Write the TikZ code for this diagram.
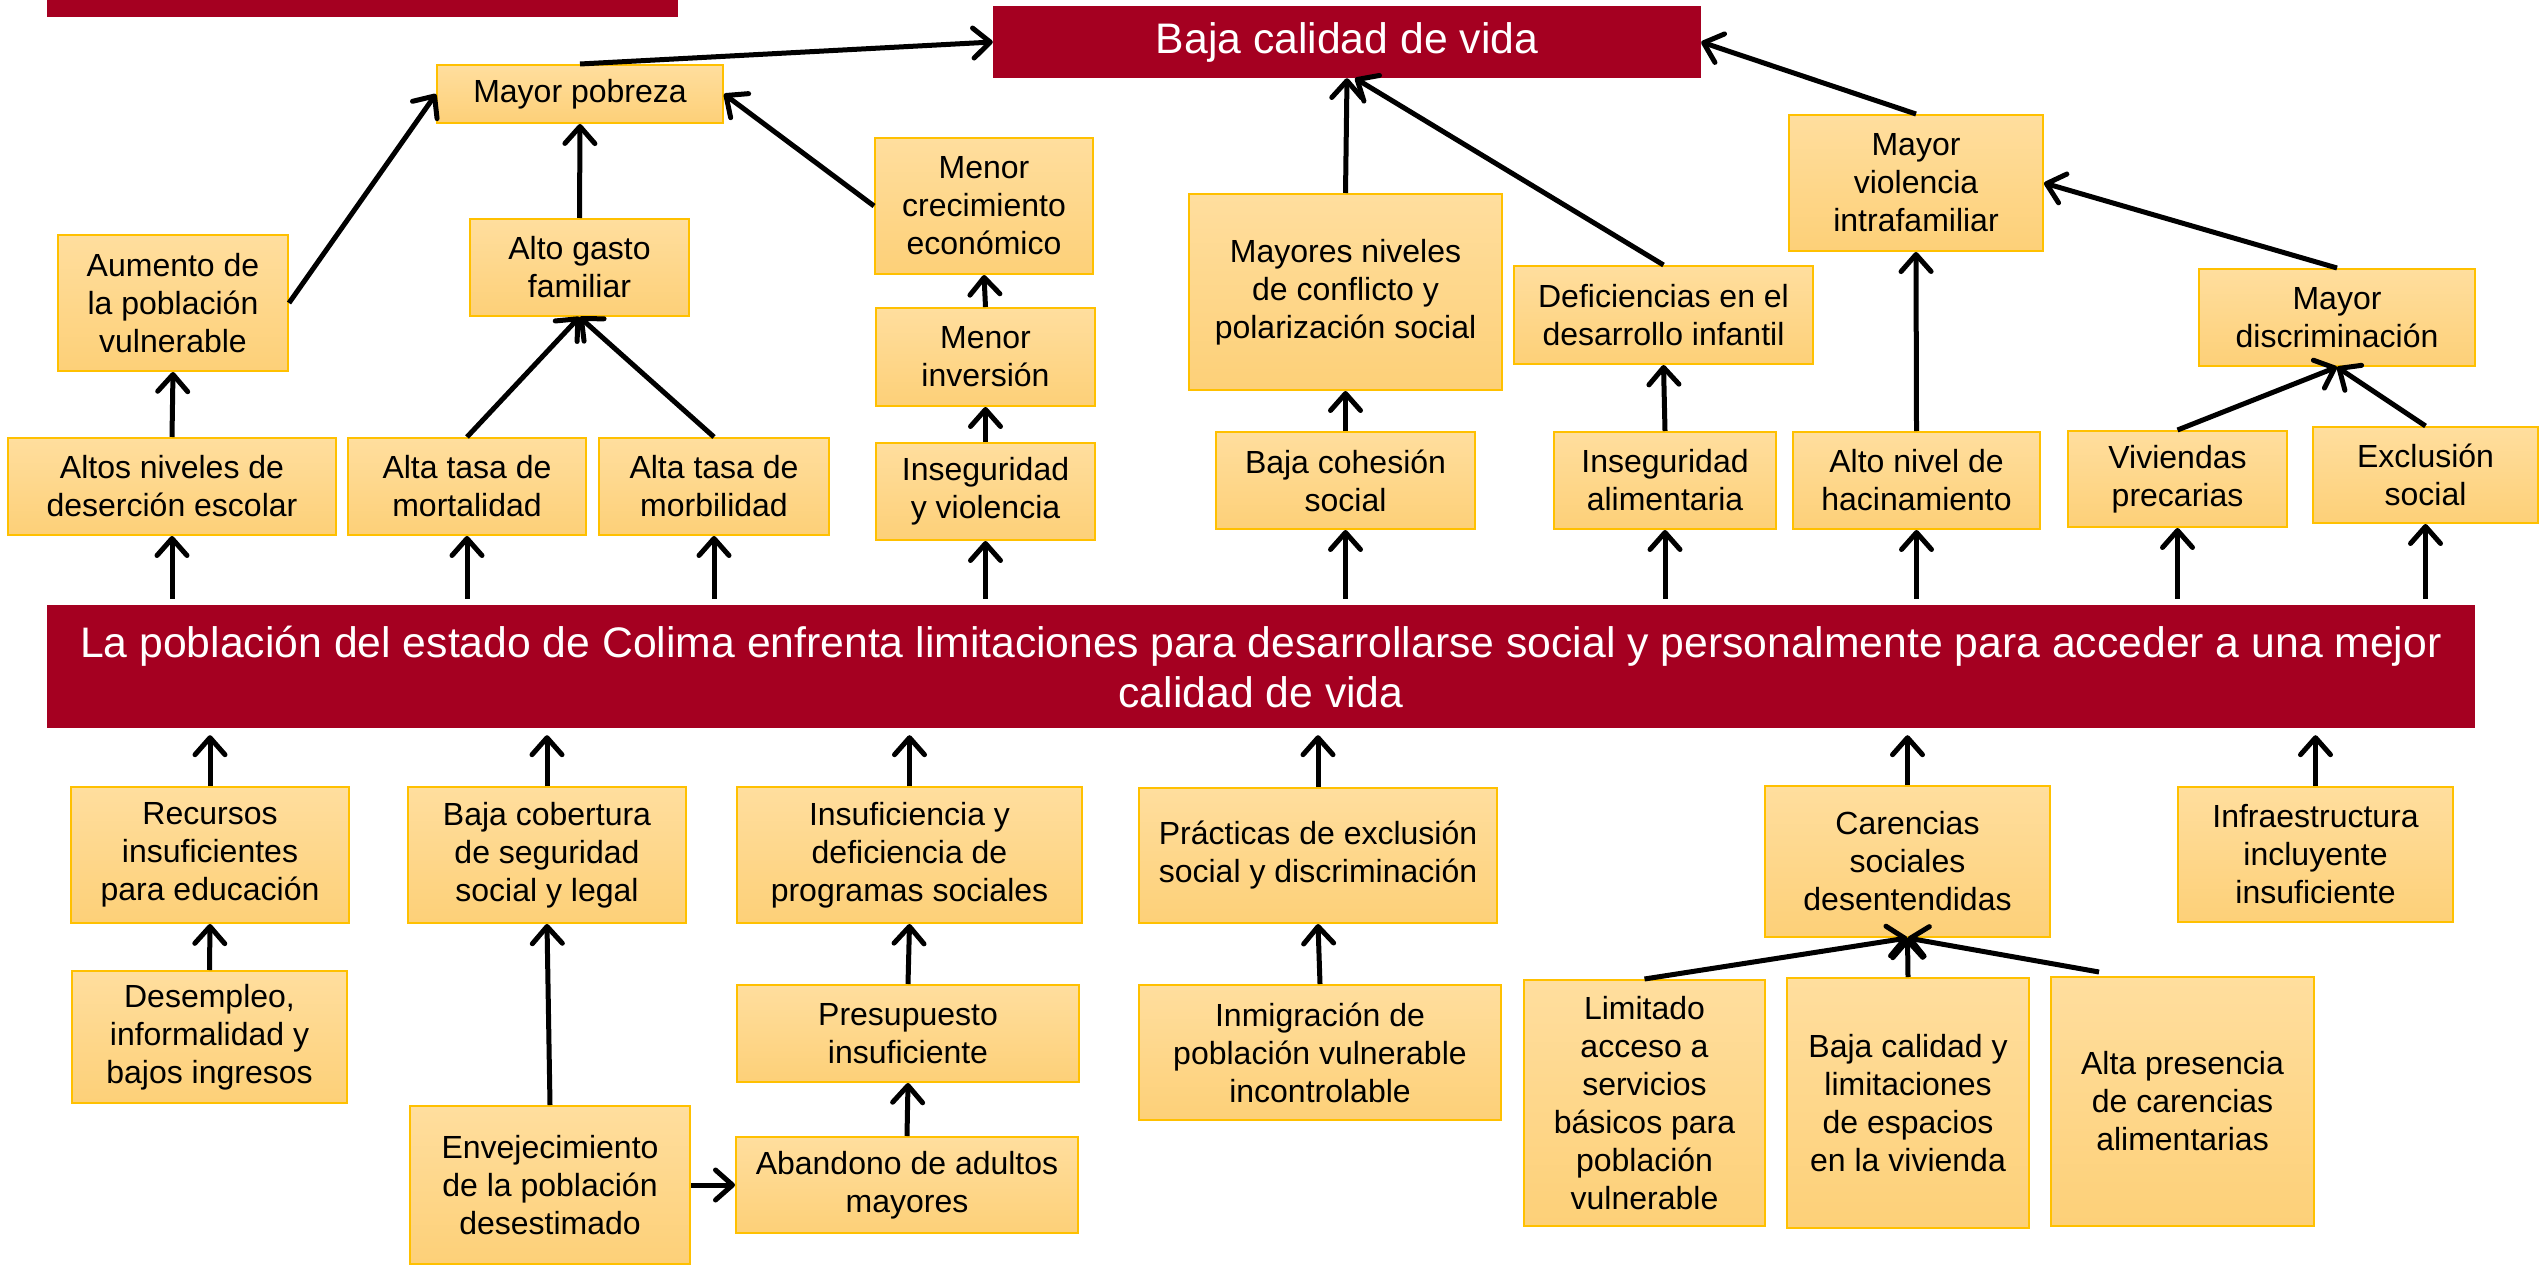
\documentclass[tikz,border=0pt]{standalone}
\usepackage{fontspec}
\setmainfont{Liberation Sans}
\usetikzlibrary{arrows.meta,calc}
\definecolor{myred}{HTML}{A50021}
\definecolor{boxtop}{HTML}{FFDE9E}
\definecolor{boxbot}{HTML}{FDD078}
\definecolor{boxline}{HTML}{FFC000}
\newcommand\mybox[7][cbox]{\node[#1, minimum width={(#5-#3)*1pt}, minimum height={(#6-#4)*1pt}] (#2) at ({(#3+#5)/2},{(#4+#6)/2}) {#7};}
\begin{document}
\begin{tikzpicture}[x=1pt,y=-1pt,
 cbox/.style={draw=boxline, line width=2pt, top color=boxtop, bottom color=boxbot, align=center, inner sep=0pt, font=\fontsize{32}{38}\selectfont},
 rbox/.style={fill=myred, text=white, align=center, inner sep=0pt, font=\fontsize{42.7}{50}\selectfont},
 arr/.style={line width=5pt, -{Straight Barb[length=17pt,width=30pt,line width=5pt,round]}}]
\useasboundingbox (0,0) rectangle (2539,1265);

% red boxes
\mybox[rbox]{bar}{47}{0}{678}{17}{}
\mybox[rbox]{baja}{993}{6}{1701}{78}{Baja calidad de vida}
\mybox[rbox]{main}{47}{605}{2475}{728}{La población del estado de Colima enfrenta limitaciones para desarrollarse social y personalmente para acceder a una mejor\\calidad de vida}

% upper boxes
\mybox{pobreza}{437}{65}{723}{123}{Mayor pobreza}
\mybox{aumento}{58}{235}{288}{371}{Aumento de\\la población\\vulnerable}
\mybox{gasto}{470}{219}{689}{316}{Alto gasto\\familiar}
\mybox{crec}{875}{138}{1093}{274}{Menor\\crecimiento\\económico}
\mybox{inver}{876}{308}{1095}{406}{Menor\\inversión}
\mybox{conflicto}{1189}{194}{1502}{390}{Mayores niveles\\de conflicto y\\polarización social}
\mybox{deficiencias}{1514}{266}{1813}{364}{Deficiencias en el\\desarrollo infantil}
\mybox{violencia}{1789}{115}{2043}{251}{Mayor\\violencia\\intrafamiliar}
\mybox{discrim}{2199}{269}{2475}{366}{Mayor\\discriminación}
\mybox{desercion}{8}{438}{336}{535}{Altos niveles de\\deserción escolar}
\mybox{mortal}{348}{438}{586}{535}{Alta tasa de\\mortalidad}
\mybox{morbil}{599}{438}{829}{535}{Alta tasa de\\morbilidad}
\mybox{insegv}{876}{443}{1095}{540}{Inseguridad\\y violencia}
\mybox{cohesion}{1216}{432}{1475}{529}{Baja cohesión\\social}
\mybox{alim}{1554}{432}{1776}{529}{Inseguridad\\alimentaria}
\mybox{hacin}{1793}{432}{2040}{529}{Alto nivel de\\hacinamiento}
\mybox{viviendas}{2068}{431}{2287}{527}{Viviendas\\precarias}
\mybox{exclusion}{2313}{427}{2538}{523}{Exclusión\\social}

% lower boxes
\mybox{recursos}{71}{787}{349}{923}{Recursos\\insuficientes\\para educación}
\mybox{cobertura}{408}{787}{686}{923}{Baja cobertura\\de seguridad\\social y legal}
\mybox{insuf}{737}{787}{1082}{923}{Insuficiencia y\\deficiencia de\\programas sociales}
\mybox{practicas}{1139}{788}{1497}{923}{Prácticas de exclusión\\social y discriminación}
\mybox{carencias}{1765}{786}{2050}{937}{Carencias\\sociales\\desentendidas}
\mybox{infra}{2178}{787}{2453}{922}{Infraestructura\\incluyente\\insuficiente}
\mybox{desempleo}{72}{971}{347}{1103}{Desempleo,\\informalidad y\\bajos ingresos}
\mybox{presup}{737}{985}{1079}{1082}{Presupuesto\\insuficiente}
\mybox{envejec}{410}{1106}{690}{1264}{Envejecimiento\\de la población\\desestimado}
\mybox{abandono}{736}{1137}{1078}{1233}{Abandono de adultos\\mayores}
\mybox{inmigra}{1139}{985}{1501}{1120}{Inmigración de\\población vulnerable\\incontrolable}
\mybox{limitado}{1524}{980}{1765}{1226}{Limitado\\acceso a\\servicios\\básicos para\\población\\vulnerable}
\mybox{bajacal}{1787}{978}{2029}{1228}{Baja calidad y\\limitaciones\\de espacios\\en la vivienda}
\mybox{altapres}{2051}{977}{2314}{1226}{Alta presencia\\de carencias\\alimentarias}

% arrows: main -> upper boxes
\foreach \n in {desercion,mortal,morbil,insegv,cohesion,alim,hacin,viviendas,exclusion}
  \draw[arr] ($(\n.south |- main.north)+(0,-6)$) -- (\n.south);

% upper chains
\draw[arr] (desercion.north) -- (aumento.south);
\draw[arr] (mortal.north) -- (gasto.south);
\draw[arr] (morbil.north) -- (gasto.south);
\draw[arr] (aumento.east) -- (pobreza.west);
\draw[arr] (gasto.north) -- (pobreza.south);
\draw[arr] (crec.west) -- (pobreza.east);
\draw[arr] (pobreza.north) -- (baja.west);
\draw[arr] (insegv.north) -- (inver.south);
\draw[arr] (inver.north) -- (crec.south);
\draw[arr] (cohesion.north) -- (conflicto.south);
\draw[arr] (conflicto.north) -- (baja.south);
\draw[arr] (deficiencias.north) -- ($(baja.south)+(8,0)$);
\draw[arr] (alim.north) -- (deficiencias.south);
\draw[arr] (hacin.north) -- (violencia.south);
\draw[arr] (violencia.north) -- (baja.east);
\draw[arr] (discrim.north) -- (violencia.east);
\draw[arr] (viviendas.north) -- (discrim.south);
\draw[arr] (exclusion.north) -- (discrim.south);

% lower boxes -> main
\foreach \n in {recursos,cobertura,insuf,practicas,carencias,infra}
  \draw[arr] (\n.north) -- ($(\n.north |- main.south)+(0,7)$);

% lower chains
\draw[arr] (desempleo.north) -- (recursos.south);
\draw[arr] (envejec.north) -- (cobertura.south);
\draw[arr] (presup.north) -- (insuf.south);
\draw[arr] (abandono.north) -- (presup.south);
\draw[arr] (envejec.east) -- (abandono.west);
\draw[arr] (inmigra.north) -- (practicas.south);
\draw[arr] (limitado.north) -- (carencias.south);
\draw[arr] (bajacal.north) -- (carencias.south);
\draw[arr] ($(altapres.north west)+(49,-4)$) -- (carencias.south);
\end{tikzpicture}
\end{document}
